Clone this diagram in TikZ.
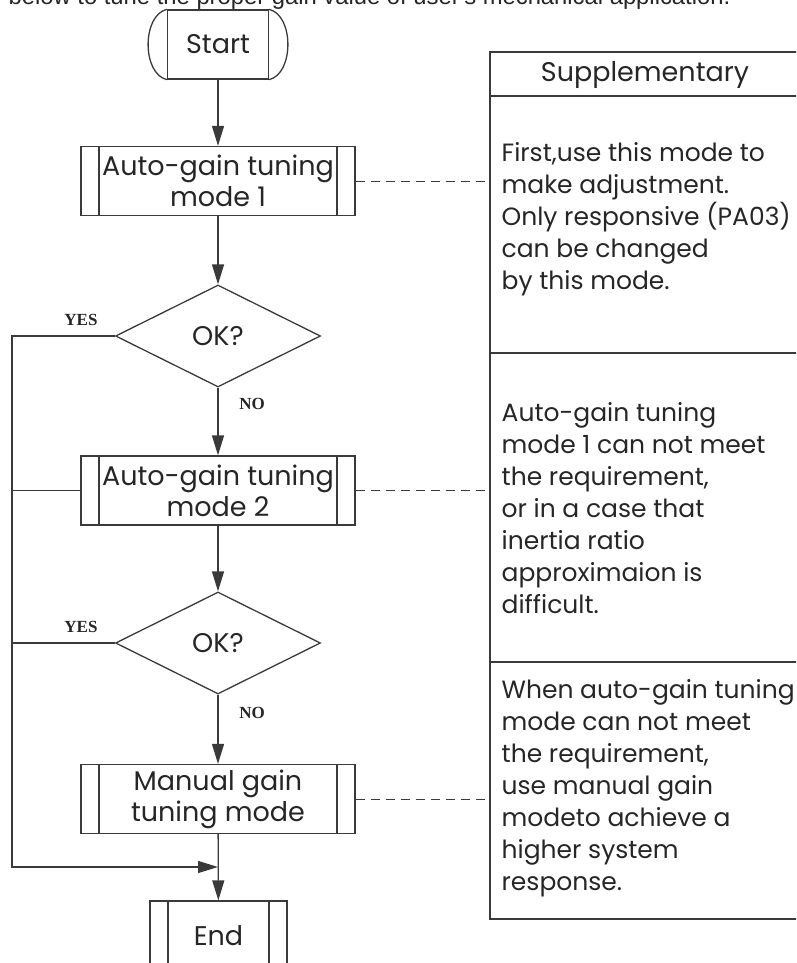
\documentclass[tikz,border=0pt]{standalone}
\usepackage{fontspec}
\setmainfont{Poppins}
\newfontfamily\labelfont{Liberation Serif}
\newfontfamily\introfont{Liberation Sans}
\usetikzlibrary{arrows.meta,positioning,shapes.geometric,calc}
\definecolor{lineclr}{HTML}{3A3A3A}
\definecolor{textclr}{HTML}{262626}

\begin{document}
\begin{tikzpicture}[x=1pt,y=-1pt,line width=1.3pt,
  every node/.style={text=textclr,font=\fontsize{27}{31}\selectfont},
  flowarrow/.style={draw=lineclr,-{Triangle[length=20pt,width=12pt]}},
  link/.style={draw=lineclr,line width=1pt,dash pattern=on 9pt off 6pt},
  procbox/.style={draw=lineclr,minimum width=274pt,minimum height=69pt,inner sep=0pt,align=center,
    path picture={
      \draw[lineclr] ([xshift=18pt]path picture bounding box.north west) -- ([xshift=18pt]path picture bounding box.south west);
      \draw[lineclr] ([xshift=-18pt]path picture bounding box.north east) -- ([xshift=-18pt]path picture bounding box.south east);
    }},
  decision/.style={draw=lineclr,diamond,minimum width=205pt,minimum height=102pt,inner sep=0pt},
  yesno/.style={font=\labelfont\bfseries\fontsize{17}{17}\selectfont},
  note/.style={anchor=west,align=left,inner sep=0pt,font=\fontsize{25}{32}\selectfont}]
\useasboundingbox (0,0) rectangle (796,963);
\clip (0,0) rectangle (796,963);

% intro line, cut by the page top
\node[anchor=base west,inner sep=0pt,font=\introfont\fontsize{23.8}{24}\selectfont] (intro) at (8,5) {below to tune the proper gain value of user's mechanical application.};

% flow
\node[draw=lineclr,minimum width=101pt,minimum height=69pt,inner sep=0pt] (start) at (218,44.5) {Start};
\draw[lineclr] (start.north west) .. controls +(-25,6) and +(-25,-6) .. (start.south west);
\draw[lineclr] (start.north east) .. controls +(25,6) and +(25,-6) .. (start.south east);
\node[procbox] (mode1) at (218,181) {Auto-gain tuning\\mode 1};
\node[decision] (ok1) at (218,336) {OK?};
\node[procbox] (mode2) at (218,490.5) {Auto-gain tuning\\mode 2};
\node[decision] (ok2) at (218,643) {OK?};
\node[procbox] (manual) at (218,799) {Manual gain\\tuning mode};
\node[procbox,minimum width=137pt,minimum height=70pt] (end) at (218.5,936) {End};

\node[yesno] (yes1) at (81,320) {YES};
\node[yesno] (no1) at (252,404) {NO};
\node[yesno] (yes2) at (81,627) {YES};
\node[yesno] (no2) at (252,713) {NO};

\coordinate (rail) at (12,867);
\coordinate (join) at (218,867);

\draw[flowarrow] (start) -- (mode1);
\draw[flowarrow] (mode1) -- (ok1);
\draw[flowarrow] (ok1) -- (mode2);
\draw[flowarrow] (mode2) -- (ok2);
\draw[flowarrow] (ok2) -- (manual);
\draw[flowarrow] (manual) -- (end);
\draw[flowarrow] (ok1.west) -- (ok1.west -| rail) -- (rail) -- (join);
\draw[lineclr] (mode2.west) -- (mode2.west -| rail);
\draw[lineclr] (ok2.west) -- (ok2.west -| rail);

% supplementary table
\coordinate (supp) at (490,52);
\draw[lineclr] (supp) rectangle (800,919);
\draw[lineclr] (490,96) -- (800,96);
\draw[lineclr] (490,353) -- (800,353);
\draw[lineclr] (490,662) -- (800,662);
\node (supphead) at (645,75) {Supplementary};

\draw[link] (mode1.east) -- (mode1.east -| supp);
\draw[link] (mode2.east) -- (mode2.east -| supp);
\draw[link] (manual.east) -- (manual.east -| supp);

\node[note] (note1) at (501,219.5) {First,use this mode to\\make adjustment.\\Only responsive (PA03)\\can be changed\\by this mode.};
\node[note] (note2) at (501,508) {Auto-gain tuning\\mode 1 can not meet\\the requirement,\\or in a case that\\inertia ratio\\approximaion is\\difficult.};
\node[note] (note3) at (501,788.5) {When auto-gain tuning\\mode can not meet\\the requirement,\\use manual gain\\modeto achieve a\\higher system\\response.};
\end{tikzpicture}
\end{document}
